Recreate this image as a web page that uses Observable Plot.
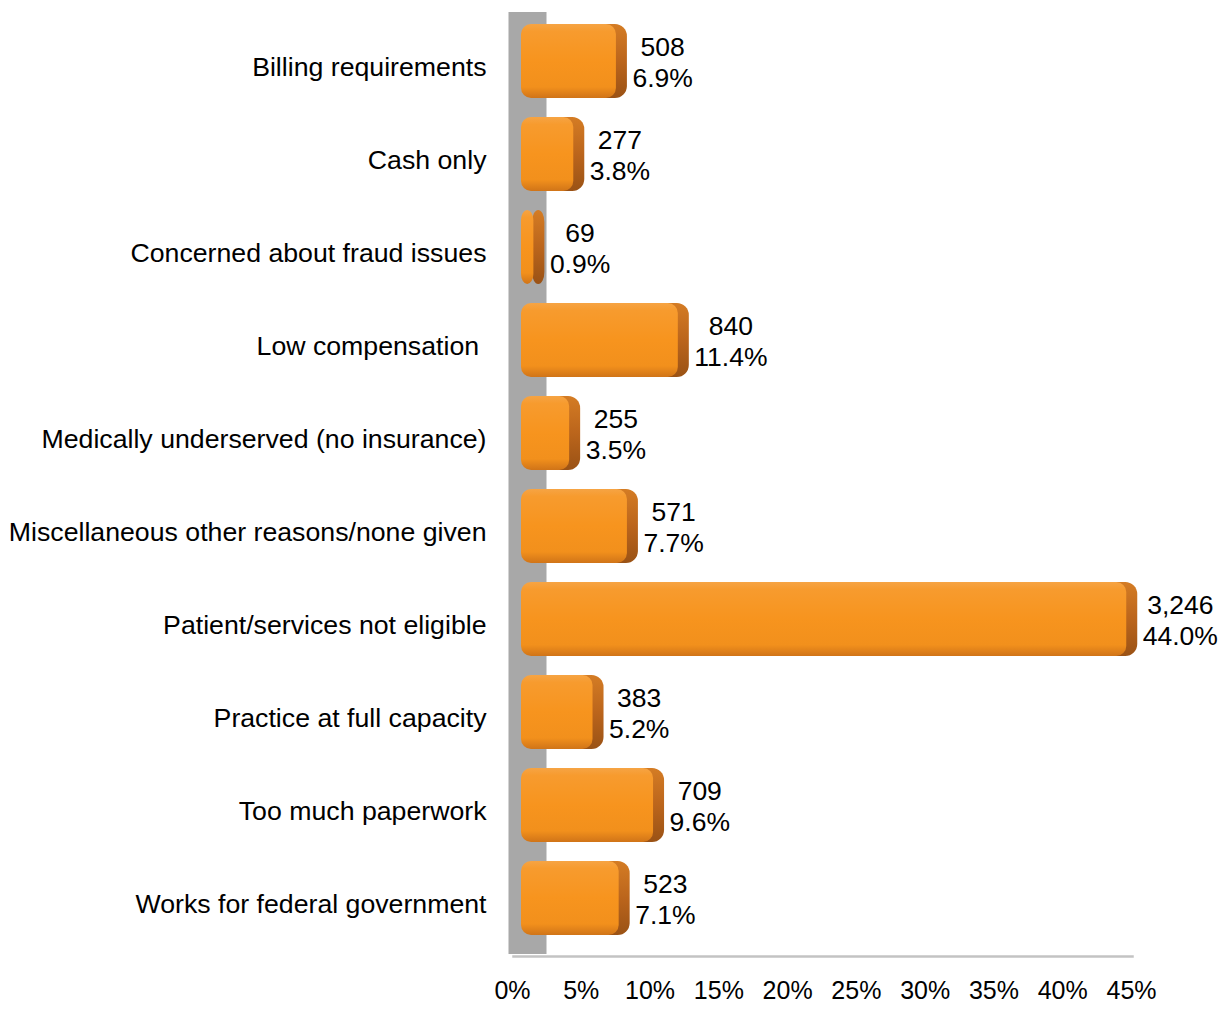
<!DOCTYPE html>
<html>
<head>
<meta charset="utf-8">
<script src="https://cdn.jsdelivr.net/npm/d3@7"></script>
<script src="https://cdn.jsdelivr.net/npm/@observablehq/plot@0.6"></script>
<style>
  html, body { margin: 0; padding: 0; background: #ffffff; }
  #chart { width: 1231px; height: 1011px; }
</style>
</head>
<body>
<div id="chart"></div>
<script>
const categories = [
  "Billing requirements",
  "Cash only",
  "Concerned about fraud issues",
  "Low compensation\u00a0",
  "Medically underserved (no insurance)",
  "Miscellaneous other reasons/none given",
  "Patient/services not eligible",
  "Practice at full capacity",
  "Too much paperwork",
  "Works for federal government"
];
const counts = [508, 277, 69, 840, 255, 571, 3246, 383, 709, 523];
const percents = [6.9, 3.8, 0.9, 11.4, 3.5, 7.7, 44.0, 5.2, 9.6, 7.1];
const xTicks = [0, 5, 10, 15, 20, 25, 30, 35, 40, 45];

const data = categories.map((c, i) => ({ category: c, count: counts[i], pct: percents[i] }));

const chart = Plot.plot({
  width: 1231,
  height: 1011,
  marginLeft: 521,
  marginRight: 91,
  marginTop: 4,
  marginBottom: 55,
  style: { fontFamily: "'Liberation Sans', Arial, sans-serif", background: "#ffffff", color: "#000000" },
  x: { domain: [0, 45] },
  y: { domain: categories, padding: 0.2 },
  marks: [
    Plot.ruleX([0], { stroke: "#a8a8a8", strokeWidth: 38, dx: 6, insetTop: 8, insetBottom: 2 }),
    Plot.frame({ anchor: "bottom", stroke: "#c3c3c3", strokeWidth: 2.5, dx: -8 }),
    Plot.barX(data, { y: "category", x: "pct", fill: "url(#sideGrad)", rx: 12, dx: 11 }),
    Plot.barX(data, { y: "category", x: "pct", fill: "url(#faceGrad)", rx: 10 }),
    Plot.text(data, {
      x: "pct", y: "category",
      text: d => `${d.count.toLocaleString("en-US")}\n${d.pct.toFixed(1)}%`,
      textAnchor: "start", dx: 16, dy: 0, fontSize: 26.5, lineHeight: 1.17, lineAnchor: "middle", fill: "#000000"
    }),
    Plot.axisY({ tickSize: 0, tickPadding: 35, fontSize: 26.7, dy: 6, label: null }),
    Plot.axisX({ ticks: xTicks, tickFormat: d => d + "%", tickSize: 0, tickPadding: 25, fontSize: 25, dx: -9, label: null })
  ]
});

const ns = "http://www.w3.org/2000/svg";
const defs = document.createElementNS(ns, "defs");
function grad(id, stops) {
  const g = document.createElementNS(ns, "linearGradient");
  g.setAttribute("id", id);
  g.setAttribute("x1", "0"); g.setAttribute("y1", "0");
  g.setAttribute("x2", "0"); g.setAttribute("y2", "1");
  for (const [o, c] of stops) {
    const s = document.createElementNS(ns, "stop");
    s.setAttribute("offset", o);
    s.setAttribute("stop-color", c);
    g.appendChild(s);
  }
  defs.appendChild(g);
}
grad("faceGrad", [[0, "#f6a444"], [0.1, "#f79b2e"], [0.5, "#f7941e"], [0.85, "#f2901c"], [1, "#d07418"]]);
grad("sideGrad", [[0, "#d47c24"], [0.5, "#bb651c"], [1, "#9a5215"]]);
chart.insertBefore(defs, chart.firstChild);

document.getElementById("chart").appendChild(chart);

// center the two lines of each value label within its block
d3.select(chart).selectAll('g[aria-label="text"] text').each(function () {
  const w = this.getBBox().width;
  this.setAttribute("text-anchor", "middle");
  const t = this.getAttribute("transform") || "";
  this.setAttribute("transform", t + ` translate(${w / 2},0)`);
});
</script>
</body>
</html>
